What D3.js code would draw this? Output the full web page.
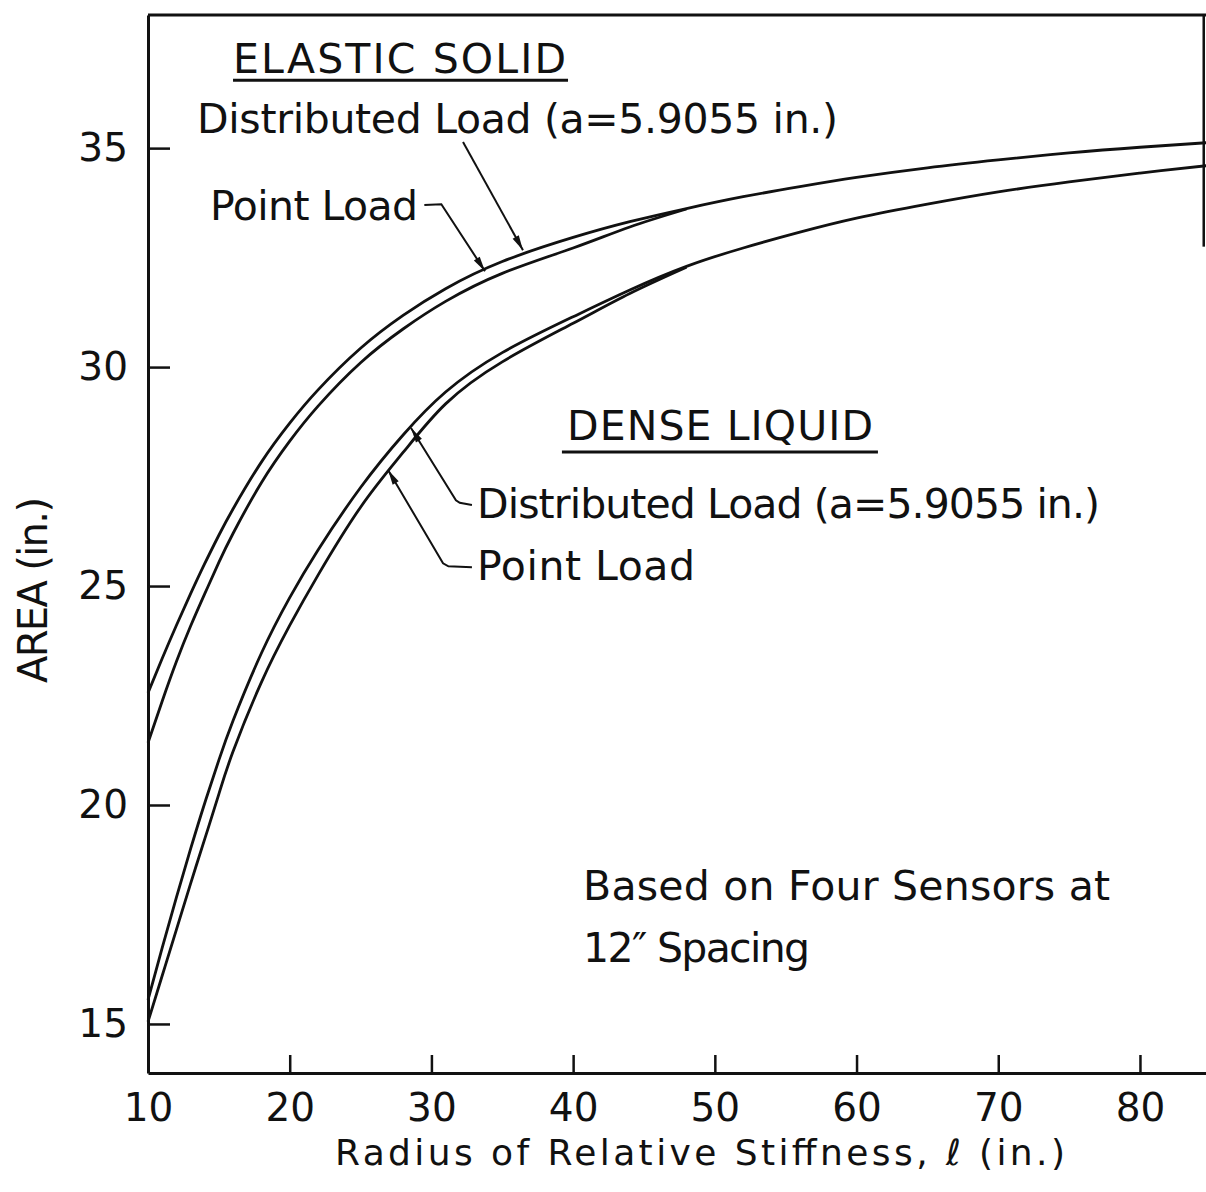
<!DOCTYPE html>
<html>
<head>
<meta charset="utf-8">
<script src="https://cdn.jsdelivr.net/npm/d3@7"></script>
<style>
  body { margin: 0; background: #fff; }
  text { font-family: "DejaVu Sans", sans-serif; fill: #111; }
</style>
</head>
<body>
<script>
// radius of relative stiffness, l (in.)
var radius = [10, 11, 12, 13, 14, 15, 16, 18, 20, 22, 25, 28, 31, 35, 40, 44, 48, 52, 56, 60, 65, 70, 75, 80, 85];

// AREA (in.); the point load curves stop where they join the distributed ones
var esDistributed = [22.56, 23.345, 24.1, 24.82, 25.51, 26.16, 26.76, 27.83, 28.72, 29.48, 30.43, 31.18, 31.79, 32.41, 32.96, 33.32, 33.62, 33.89, 34.12, 34.33, 34.55, 34.73, 34.89, 35.02, 35.13];
var esPoint = [21.42, 22.37, 23.27, 24.08, 24.82, 25.54, 26.2, 27.36, 28.31, 29.11, 30.1, 30.87, 31.5, 32.14, 32.72, 33.2, 33.61];
var dlDistributed = [15.55, 16.735, 17.885, 18.99, 20.04, 21.025, 21.925, 23.465, 24.735, 25.825, 27.25, 28.45, 29.43, 30.33, 31.15, 31.76, 32.3, 32.72, 33.08, 33.4, 33.72, 34.0, 34.23, 34.43, 34.61];
var dlPoint = [15.05, 16.1, 17.15, 18.2, 19.22, 20.25, 21.22, 22.8, 24.1, 25.25, 26.8, 28.05, 29.16, 30.12, 31.0, 31.68, 32.28];

var xTicks = [10, 20, 30, 40, 50, 60, 70, 80];
var yTicks = [15, 20, 25, 30, 35];

var width = 1206, height = 1192;
var margin = { top: 15, left: 148, bottom: 119 };

var svg = d3.select("body").append("svg")
    .attr("width", width)
    .attr("height", height);

var x = d3.scaleLinear().domain([10, 84.66]).range([margin.left, width]);
var y = d3.scaleLinear().domain([13.88, 38.04]).range([height - margin.bottom, margin.top]);

// arrow head
svg.append("defs").append("marker")
    .attr("id", "head")
    .attr("markerUnits", "userSpaceOnUse")
    .attr("viewBox", "-16 -5 17 10")
    .attr("refX", 0).attr("refY", 0)
    .attr("markerWidth", 17).attr("markerHeight", 10)
    .attr("orient", "auto")
    .append("path")
    .attr("d", "M0,0L-15,-3.5L-15,3.5Z")
    .attr("fill", "#111");

// axes
var xAxis = svg.append("g")
    .attr("transform", "translate(0," + y.range()[0] + ")")
    .call(d3.axisBottom(x).tickValues(xTicks).tickSize(-18).tickSizeOuter(0).tickPadding(20).tickFormat(d3.format("d")));

var yAxis = svg.append("g")
    .attr("transform", "translate(" + x.range()[0] + ",0)")
    .call(d3.axisLeft(y).tickValues(yTicks).tickSize(-22).tickSizeOuter(0).tickPadding(20).tickFormat(d3.format("d")));

[xAxis, yAxis].forEach(function (g) {
    g.select(".domain").attr("stroke", "#111").attr("stroke-width", 3);
    g.selectAll(".tick line").attr("stroke", "#111").attr("stroke-width", 2.5);
    g.selectAll(".tick text")
        .style("font-family", '"DejaVu Sans", sans-serif')
        .style("font-size", "39px")
        .attr("fill", "#111");
});
xAxis.selectAll(".tick").filter(function (d) { return d === 10; }).select("line").remove();

// frame: top edge and what is left of the right edge
svg.append("line")
    .attr("x1", x.range()[0]).attr("x2", x.range()[1])
    .attr("y1", y.range()[1]).attr("y2", y.range()[1])
    .attr("stroke", "#111").attr("stroke-width", 3);
svg.append("line")
    .attr("x1", x(84.5)).attr("x2", x(84.5))
    .attr("y1", y.range()[1]).attr("y2", y(32.75))
    .attr("stroke", "#111").attr("stroke-width", 2.5);

// curves
var line = d3.line()
    .x(function (d) { return x(d[0]); })
    .y(function (d) { return y(d[1]); })
    .curve(d3.curveNatural);

[esDistributed, esPoint, dlDistributed, dlPoint].forEach(function (vals) {
    var pts = vals.map(function (v, i) { return [radius[i], v]; });
    svg.append("path")
        .datum(pts)
        .attr("fill", "none")
        .attr("stroke", "#111")
        .attr("stroke-width", 2.8)
        .attr("stroke-linejoin", "round")
        .attr("d", line);
});

// labels on the plot (positions in data units)
function label(txt, px, py, len, size) {
    return svg.append("text")
        .attr("x", x(px)).attr("y", y(py))
        .attr("textLength", len)
        .attr("lengthAdjust", "spacing")
        .style("font-size", size + "px")
        .text(txt);
}
function leader(pts, arrow) {
    var p = svg.append("path")
        .datum(pts)
        .attr("fill", "none")
        .attr("stroke", "#111")
        .attr("stroke-width", 2)
        .attr("d", d3.line().x(function (d) { return x(d[0]); }).y(function (d) { return y(d[1]); }));
    if (arrow) p.attr("marker-end", "url(#head)");
}
function underline(x0, x1, py) {
    svg.append("line")
        .attr("x1", x(x0)).attr("x2", x(x1))
        .attr("y1", y(py)).attr("y2", y(py))
        .attr("stroke", "#111").attr("stroke-width", 3);
}

label("ELASTIC SOLID", 16.0, 36.71, 333, 41);
underline(16.0, 39.64, 36.55);
label("Distributed Load (a=5.9055 in.)", 13.46, 35.34, 641, 41);
label("Point Load", 14.38, 33.36, 208, 41);
leader([[29.5, 33.70], [30.7, 33.72], [33.78, 32.19]], true);
leader([[32.23, 35.14], [36.46, 32.67]], true);

label("DENSE LIQUID", 39.57, 28.33, 306, 41);
underline(39.21, 61.51, 28.06);
label("Distributed Load (a=5.9055 in.)", 33.22, 26.55, 623, 41);
label("Point Load", 33.22, 25.14, 218, 41);
leader([[32.86, 26.85], [32.0, 26.9], [31.73, 26.96], [28.56, 28.61]], true);
leader([[32.86, 25.43], [31.2, 25.45], [30.82, 25.52], [26.94, 27.65]], true);

label("Based on Four Sensors at", 40.7, 17.83, 527, 41);
label("12\u2033 Spacing", 40.7, 16.42, 227, 41);

// axis titles
svg.append("text")
    .attr("x", 700).attr("y", 1165)
    .attr("text-anchor", "middle")
    .attr("textLength", 730)
    .attr("lengthAdjust", "spacing")
    .style("font-size", "36px")
    .text("Radius of Relative Stiffness, \u2113 (in.)");

svg.append("text")
    .attr("transform", "translate(47,590) rotate(-90)")
    .attr("text-anchor", "middle")
    .attr("textLength", 186)
    .attr("lengthAdjust", "spacing")
    .style("font-size", "40px")
    .text("AREA  (in.)");
</script>
</body>
</html>
